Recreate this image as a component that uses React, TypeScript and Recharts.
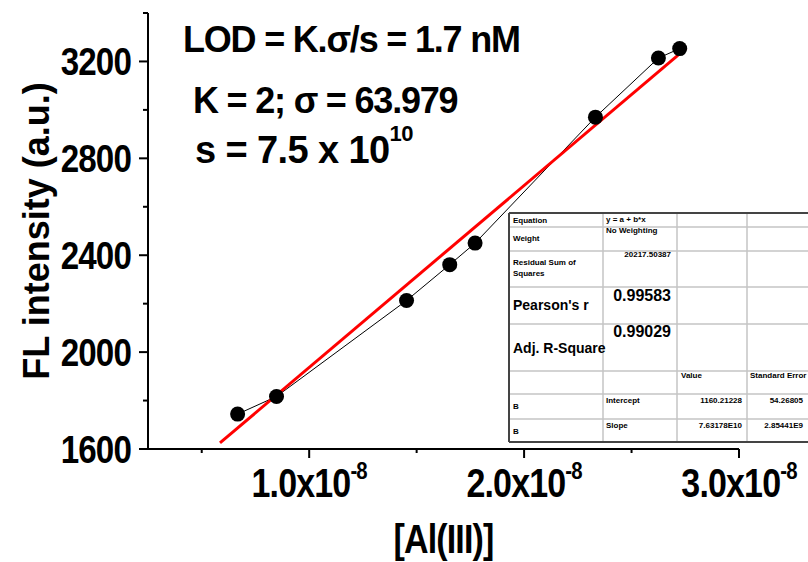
import React from 'react';
import { ComposedChart, Line, XAxis, YAxis, Customized } from 'recharts';

// [Al(III)] in M
const concentration = [0.667e-8, 0.848e-8, 1.453e-8, 1.654e-8, 1.772e-8, 2.332e-8, 2.625e-8, 2.724e-8];
const intensity = [1744, 1817, 2213, 2361, 2450, 2970, 3214, 3253];

// linear fit drawn in red (end points)
const fitConcentration = [0.585e-8, 2.755e-8];
const fitIntensity = [1625, 3255];

const xTicks = [0.5e-8, 1.0e-8, 1.5e-8, 2.0e-8, 2.5e-8, 3.0e-8];
const yTicks = [1600, 1800, 2000, 2200, 2400, 2600, 2800, 3000, 3200, 3400];

const lodLines = ['LOD = K.σ/s = 1.7 nM', 'K = 2; σ = 63.979'];
const slopeText = ['s = 7.5 x 10', '10'];

const statNames = ['Equation', 'Weight', 'Residual Sum of', 'Squares', "Pearson's r", 'Adj. R-Square'];
const statValues = ['y = a + b*x', 'No Weighting', '20217.50387', '0.99583', '0.99029'];
const paramHeader = ['Value', 'Standard Error'];
const paramNames = ['Intercept', 'Slope'];
const paramValues = ['1160.21228', '7.63178E10'];
const paramErrors = ['54.26805', '2.85441E9'];

const points = concentration.map((x, i) => ({ x, y: intensity[i] }));
const fitLine = fitConcentration.map((x, i) => ({ x, y: fitIntensity[i] }));

const FONT = '"Liberation Sans", Arial, sans-serif';

const YTick = (props: any) => {
  const { x, y, payload } = props;
  const major = payload.value % 400 === 0;
  return (
    <g>
      <line x1={x} x2={x - (major ? 9 : 5)} y1={y} y2={y} stroke="#000" strokeWidth={2} />
      {major && (
        <text transform={`translate(${x - 17},${y + 14}) scale(0.85,1)`} textAnchor="end" fontFamily={FONT} fontWeight="bold" fontSize={39} letterSpacing={-1} fill="#000">
          {payload.value}
        </text>
      )}
    </g>
  );
};

const XTick = (props: any) => {
  const { x, y, payload } = props;
  const v = payload.value * 1e8;
  const major = Math.abs(v - Math.round(v)) < 1e-6;
  return (
    <g>
      <line x1={x} x2={x} y1={y} y2={y + (major ? 9 : 4)} stroke="#000" strokeWidth={2} />
      {major && (
        <text transform={`translate(${x},${y + 48}) scale(0.85,1)`} textAnchor="middle" fontFamily={FONT} fontWeight="bold" fontSize={40} letterSpacing={-1} fill="#000">
          {v.toFixed(1)}x10
          <tspan fontSize={24} dy={-18}>-8</tspan>
        </text>
      )}
    </g>
  );
};

const Dot = (props: any) => <circle key={props.index} cx={props.cx} cy={props.cy} r={7.5} fill="#000" />;

const Notes = () => {
  const rows = [213, 227, 251, 287, 324, 371, 394, 419, 442];
  const cols = [509, 603, 677, 747, 830];
  const small = { fontFamily: FONT, fontWeight: 'bold' as const, fontSize: 8, fill: '#000' };
  const mid = { fontFamily: FONT, fontWeight: 'bold' as const, fontSize: 14, fill: '#000' };
  const big = { fontFamily: FONT, fontWeight: 'bold' as const, fontSize: 16, fill: '#000' };
  return (
    <g>
      {/* LOD annotation */}
      <g fontFamily={FONT} fontWeight="bold" fill="#000">
        <text x={183} y={52} fontSize={36} letterSpacing={-1.2}>{lodLines[0]}</text>
        <text x={193} y={113} fontSize={36} letterSpacing={-1.2}>{lodLines[1]}</text>
        <text x={195} y={163} fontSize={38} letterSpacing={-0.6}>
          {slopeText[0]}
          <tspan fontSize={22} dy={-22}>{slopeText[1]}</tspan>
        </text>
      </g>

      {/* fit statistics table */}
      <rect x={cols[0]} y={rows[0]} width={cols[4] - cols[0]} height={rows[8] - rows[0]} fill="#fff" />
      {rows.slice(1, 8).map((r) => (
        <line key={'r' + r} x1={cols[0]} x2={cols[4]} y1={r} y2={r} stroke="#c4c4c4" strokeWidth={1.5} />
      ))}
      {cols.slice(1, 4).map((c) => (
        <line key={'c' + c} x1={c} x2={c} y1={rows[0]} y2={rows[8]} stroke="#c4c4c4" strokeWidth={1.5} />
      ))}
      <line x1={cols[0]} x2={cols[4]} y1={rows[0]} y2={rows[0]} stroke="#444" strokeWidth={2} />
      <line x1={cols[0]} x2={cols[4]} y1={rows[8]} y2={rows[8]} stroke="#444" strokeWidth={2} />
      <line x1={cols[0]} x2={cols[0]} y1={rows[0]} y2={rows[8]} stroke="#444" strokeWidth={2} />

      <text x={513} y={223} {...small}>{statNames[0]}</text>
      <text x={606} y={222} {...small}>{statValues[0]}</text>
      <text x={513} y={241} {...small}>{statNames[1]}</text>
      <text x={606} y={233} {...small}>{statValues[1]}</text>
      <text x={513} y={265} {...small}>{statNames[2]}</text>
      <text x={513} y={276} {...small}>{statNames[3]}</text>
      <text x={671} y={257} textAnchor="end" {...small}>{statValues[2]}</text>
      <text x={513} y={310} {...mid}>{statNames[4]}</text>
      <text x={671} y={301} textAnchor="end" {...big}>{statValues[3]}</text>
      <text x={513} y={353} {...mid}>{statNames[5]}</text>
      <text x={671} y={337} textAnchor="end" {...big}>{statValues[4]}</text>

      <text x={681} y={378} {...small}>{paramHeader[0]}</text>
      <text x={750} y={378} {...small}>{paramHeader[1]}</text>
      {paramNames.map((name, i) => {
        const top = rows[6 + i];
        return (
          <g key={name}>
            <text x={513} y={top + 15} {...small}>B</text>
            <text x={606} y={top + 9} {...small}>{name}</text>
            <text x={742} y={top + 9} textAnchor="end" {...small}>{paramValues[i]}</text>
            <text x={803} y={top + 9} textAnchor="end" {...small}>{paramErrors[i]}</text>
          </g>
        );
      })}
    </g>
  );
};

const App: React.FC = () => {
  return (
    <div style={{ position: 'absolute', left: 0, top: 0, width: 808, height: 562, background: '#fff' }}>
      <ComposedChart width={808} height={562} margin={{ top: 13, right: 69, bottom: 0, left: 0 }}>
        <XAxis
          type="number"
          dataKey="x"
          domain={[0.25e-8, 3.0e-8]}
          ticks={xTicks}
          interval={0}
          allowDataOverflow
          height={113}
          tickSize={0}
          tickMargin={0}
          tickLine={false}
          axisLine={{ stroke: '#000', strokeWidth: 2 }}
          tick={<XTick />}
          label={{
            content: (p: any) => {
              const cx = p.viewBox.x + p.viewBox.width / 2;
              return (
                <text transform={`translate(${cx},553) scale(0.85,1)`} textAnchor="middle" fontFamily={FONT} fontWeight="bold" fontSize={40} letterSpacing={-1} fill="#000">
                  [Al(III)]
                </text>
              );
            },
          }}
        />
        <YAxis
          type="number"
          domain={[1600, 3400]}
          ticks={yTicks}
          interval={0}
          allowDataOverflow
          width={148}
          tickSize={0}
          tickMargin={0}
          tickLine={false}
          axisLine={{ stroke: '#000', strokeWidth: 2 }}
          tick={<YTick />}
          label={{
            content: (p: any) => {
              const cy = p.viewBox.y + p.viewBox.height / 2;
              return (
                <text x={49} y={cy} transform={`rotate(-90 49 ${cy})`} textAnchor="middle" fontFamily={FONT} fontWeight="bold" fontSize={36} fill="#000">
                  FL intensity (a.u.)
                </text>
              );
            },
          }}
        />
        <Line
          data={points}
          dataKey="y"
          type="linear"
          stroke="#000"
          strokeWidth={1}
          dot={Dot}
          activeDot={false}
          isAnimationActive={false}
        />
        <Line
          data={fitLine}
          dataKey="y"
          type="linear"
          stroke="#ff0000"
          strokeWidth={3}
          dot={false}
          activeDot={false}
          isAnimationActive={false}
        />
        <Customized component={Notes} />
      </ComposedChart>
    </div>
  );
};

export default App;
